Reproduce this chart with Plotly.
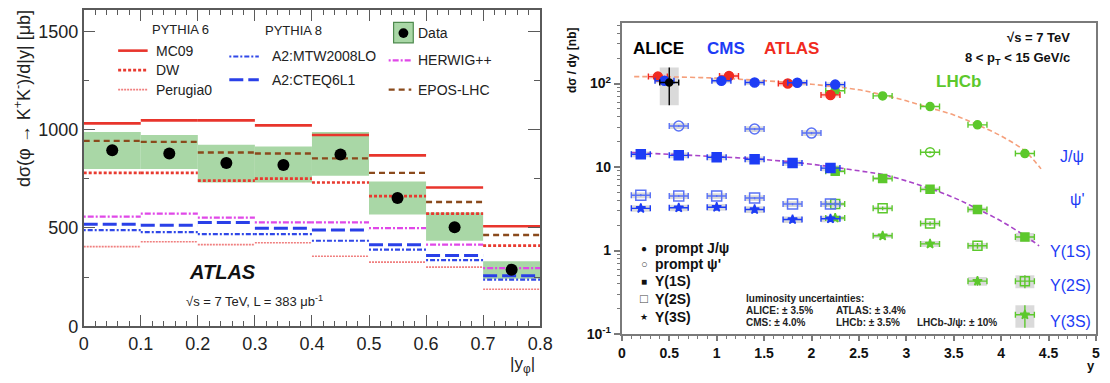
import plotly.graph_objects as go

W, H = 1110, 383
FONT = "Liberation Sans, Arial, Helvetica, sans-serif"

# ---------------- Left panel: ATLAS phi -> K+K- cross section ----------------
bin_lo = [0.0, 0.1, 0.2, 0.3, 0.4, 0.5, 0.6, 0.7]
bin_hi = [0.1, 0.2, 0.3, 0.4, 0.5, 0.6, 0.7, 0.8]
data_val = [895, 879, 830, 820, 874, 652, 504, 288]
data_sys_lo = [800, 800, 731, 731, 765, 568, 435, 242]
data_sys_hi = [988, 973, 923, 914, 988, 736, 578, 331]
mc09 = [1032, 1047, 1047, 1022, 973, 869, 706, 509]
dw = [780, 780, 741, 751, 731, 662, 573, 410]
perugia0 = [405, 430, 415, 425, 356, 326, 301, 188]
a2_mtw2008lo = [489, 479, 469, 469, 435, 390, 336, 237]
a2_cteq6l1 = [519, 514, 528, 499, 489, 415, 360, 257]
herwigpp = [558, 573, 553, 528, 528, 499, 415, 296]
epos_lhc = [943, 938, 884, 879, 854, 780, 632, 464]

# ---------------- Right panel: quarkonium dsigma/dy ----------------
xbin_half = 0.1
jpsi_cms_y = [0.45, 1.05, 1.4, 1.85, 2.25]
jpsi_cms = [108, 108, 103, 102, 97]
jpsi_atlas_y = [0.38, 1.13, 1.75, 2.2]
jpsi_atlas = [121, 123, 100, 73]
jpsi_alice_y = [0.5]
jpsi_alice = [103]
jpsi_alice_hi = [155]
jpsi_alice_lo = [55]
jpsi_lhcb_y = [2.25, 2.75, 3.25, 3.75, 4.25]
jpsi_lhcb = [82, 71, 53, 32, 14.5]
psi2s_cms_y = [0.6, 1.4, 2.0]
psi2s_cms = [31, 28.5, 25.5]
psi2s_lhcb_y = [3.25]
psi2s_lhcb = [15]
ups_cms_y = [0.2, 0.6, 1.0, 1.4, 1.8, 2.2]
ups1s_cms = [14.2, 13.8, 13.1, 12.4, 11.2, 9.7]
ups2s_cms = [4.6, 4.5, 4.5, 4.25, 3.6, 3.6]
ups3s_cms = [3.2, 3.25, 3.3, 3.1, 2.35, 2.4]
ups_lhcb_y = [2.25, 2.75, 3.25, 3.75, 4.25]
ups1s_lhcb = [8.9, 7.3, 5.4, 3.1, 1.45]
ups2s_lhcb = [3.6, 3.2, 2.1, 1.14, 0.43]
ups3s_lhcb = [2.45, 1.5, 1.2, 0.43, 0.17]
ups1s_lhcb_rel = [0.04, 0.04, 0.05, 0.06, 0.12]
ups2s_lhcb_rel = [0.05, 0.05, 0.06, 0.08, 0.18]
ups3s_lhcb_rel = [0.06, 0.06, 0.08, 0.12, 0.30]
fit_jpsi_y = [0.13, 0.5, 1.0, 1.5, 2.0, 2.5, 2.75, 3.0, 3.25, 3.5, 3.75, 4.0, 4.25, 4.42]
fit_jpsi = [121, 120, 116, 108, 98, 84, 73, 62, 51, 42, 32, 23.5, 15.5, 9.5]
fit_ups_y = [0.1, 0.5, 1.0, 1.5, 2.0, 2.5, 2.8, 3.25, 3.5, 3.75, 4.0, 4.25, 4.4]
fit_ups = [14.9, 14.2, 13.3, 12.3, 10.8, 9.0, 7.9, 5.5, 4.3, 3.15, 2.25, 1.5, 1.14]

fig = go.Figure()

# ---- left panel traces ----
centers = [(a + b) / 2 for a, b in zip(bin_lo, bin_hi)]
fig.add_trace(go.Bar(x=centers, y=[h - l for h, l in zip(data_sys_hi, data_sys_lo)],
                     base=data_sys_lo, width=0.1,
                     marker=dict(color="#a9d7a6", line=dict(width=0)),
                     xaxis="x", yaxis="y"))


def steps(vals):
    xs, ys = [], []
    for a, b, v in zip(bin_lo, bin_hi, vals):
        xs += [a, b, None]
        ys += [v, v, None]
    return xs, ys


models = [
    (perugia0, "#f07f7f", 1.6, "2px,1px"),
    (a2_mtw2008lo, "#3048e8", 2.2, "2px,2px,5px,2px"),
    (a2_cteq6l1, "#2a40e8", 3, "14px,5px"),
    (herwigpp, "#e048e8", 2.2, "2px,2px,6px,2px"),
    (dw, "#e83a30", 2.6, "3px,2px"),
    (epos_lhc, "#8a4a1c", 2.4, "6px,4px"),
    (mc09, "#e8352c", 2.6, "solid"),
]
for vals, col, wd, dash in models:
    xs, ys = steps(vals)
    fig.add_trace(go.Scatter(x=xs, y=ys, mode="lines",
                             line=dict(color=col, width=wd, dash=dash),
                             xaxis="x", yaxis="y"))

fig.add_trace(go.Scatter(x=centers, y=data_val, mode="markers",
                         marker=dict(color="black", size=12),
                         xaxis="x", yaxis="y"))

# ---- right panel traces ----


def boxes(xs, ys, rel_lo, rel_hi):
    bx, by = [], []
    for i, (x, y) in enumerate(zip(xs, ys)):
        lo = y * (1 - rel_lo[i])
        hi = y * (1 + rel_hi[i])
        bx += [x - xbin_half, x + xbin_half, x + xbin_half, x - xbin_half, x - xbin_half, None]
        by += [lo, lo, hi, hi, lo, None]
    return bx, by


GREY = "rgba(205,205,205,0.75)"
box_sets = [
    (jpsi_alice_y, jpsi_alice, [1 - l / v for l, v in zip(jpsi_alice_lo, jpsi_alice)],
     [h / v - 1 for h, v in zip(jpsi_alice_hi, jpsi_alice)], GREY),
    (jpsi_cms_y, jpsi_cms, [0.07] * 5, [0.07] * 5, GREY),
    (jpsi_atlas_y, jpsi_atlas, [0.07] * 4, [0.07] * 4, "rgba(255,190,190,0.6)"),
    (psi2s_cms_y, psi2s_cms, [0.08] * 3, [0.08] * 3, GREY),
    (ups_cms_y, ups1s_cms, [0.08] * 6, [0.08] * 6, GREY),
    (ups_cms_y, ups2s_cms, [0.08] * 6, [0.08] * 6, GREY),
    (ups_cms_y, ups3s_cms, [0.09] * 6, [0.09] * 6, GREY),
    (ups_lhcb_y, ups1s_lhcb, ups1s_lhcb_rel, ups1s_lhcb_rel, GREY),
    (ups_lhcb_y, ups2s_lhcb, ups2s_lhcb_rel, ups2s_lhcb_rel, GREY),
    (ups_lhcb_y, ups3s_lhcb, ups3s_lhcb_rel, ups3s_lhcb_rel, GREY),
]
for xs, ys, rl, rh, col in box_sets:
    bx, by = boxes(xs, ys, rl, rh)
    fig.add_trace(go.Scatter(x=bx, y=by, mode="lines", fill="toself", fillcolor=col,
                             line=dict(width=0), xaxis="x2", yaxis="y2"))

fig.add_trace(go.Scatter(x=fit_jpsi_y, y=fit_jpsi, mode="lines", line_shape="spline",
                         line=dict(color="#f5a07c", width=1.6, dash="5px,3px"),
                         xaxis="x2", yaxis="y2"))
fig.add_trace(go.Scatter(x=fit_ups_y, y=fit_ups, mode="lines", line_shape="spline",
                         line=dict(color="#a844c8", width=1.6, dash="5px,3px"),
                         xaxis="x2", yaxis="y2"))

BLUE = "#1d3cf5"
LBLUE = "#5a72f5"
RED = "#f02a20"
GREEN = "#5cc82c"


def pts(xs, ys, color, symbol, size, rel_err=0.03, err_plus=None, err_minus=None, lw=1.5):
    if err_plus is None:
        err_plus = [y * rel_err for y in ys]
        err_minus = [y * rel_err for y in ys]
    fig.add_trace(go.Scatter(
        x=xs, y=ys, mode="markers",
        marker=dict(symbol=symbol, size=size, color=color,
                    line=dict(color=color, width=lw)),
        error_x=dict(type="constant", value=xbin_half, color=color, thickness=1.4, width=3),
        error_y=dict(type="data", array=err_plus, arrayminus=err_minus,
                     color=color, thickness=1.4, width=0),
        xaxis="x2", yaxis="y2"))


pts(jpsi_lhcb_y, jpsi_lhcb, GREEN, "circle", 8)
pts(psi2s_lhcb_y, psi2s_lhcb, GREEN, "circle-open", 9)
pts(ups_lhcb_y, ups1s_lhcb, GREEN, "square", 8)
pts(ups_lhcb_y, ups2s_lhcb, GREEN, "square-open", 9,
    err_plus=[y * r for y, r in zip(ups2s_lhcb, ups2s_lhcb_rel)],
    err_minus=[y * r for y, r in zip(ups2s_lhcb, ups2s_lhcb_rel)])
pts(ups_lhcb_y, ups3s_lhcb, GREEN, "star", 7,
    err_plus=[y * r for y, r in zip(ups3s_lhcb, ups3s_lhcb_rel)],
    err_minus=[y * r for y, r in zip(ups3s_lhcb, ups3s_lhcb_rel)])
pts(jpsi_atlas_y, jpsi_atlas, RED, "circle", 9)
pts(jpsi_cms_y, jpsi_cms, BLUE, "circle", 9)
pts(psi2s_cms_y, psi2s_cms, LBLUE, "circle-open", 10)
pts(ups_cms_y, ups1s_cms, BLUE, "square", 9)
pts(ups_cms_y, ups2s_cms, LBLUE, "square-open", 10)
pts(ups_cms_y, ups3s_cms, BLUE, "star", 7, rel_err=0.08)
pts(jpsi_alice_y, jpsi_alice, "black", "circle", 7,
    err_plus=[h - v for h, v in zip(jpsi_alice_hi, jpsi_alice)],
    err_minus=[v - l for l, v in zip(jpsi_alice_lo, jpsi_alice)])

# ---------------- layout ----------------


def X(p):
    return p / W


def Y(p):
    return 1 - p / H


AX = "#5a5a5a"
left_x = dict(domain=[X(80), X(544)], range=[0, 0.8], anchor="y",
              tickvals=[i / 10 for i in range(9)],
              ticktext=["0", "0.1", "0.2", "0.3", "0.4", "0.5", "0.6", "0.7", "0.8"],
              ticks="inside", ticklen=12, tickwidth=1.2, tickcolor=AX,
              minor=dict(ticks="inside", ticklen=6, dtick=0.02, tick0=0, tickcolor=AX, tickwidth=1.2),
              showline=True, linecolor=AX, linewidth=1.5, mirror="ticks",
              showgrid=False, zeroline=False,
              tickfont=dict(family=FONT, size=18, color="#222"))
left_y = dict(domain=[Y(335), Y(10)], range=[0, 1610], anchor="x",
              tickvals=[0, 500, 1000, 1500],
              ticks="inside", ticklen=12, tickwidth=1.2, tickcolor=AX,
              minor=dict(ticks="inside", ticklen=6, dtick=250, tick0=0, tickcolor=AX, tickwidth=1.2),
              showline=True, linecolor=AX, linewidth=1.5, mirror="ticks",
              showgrid=False, zeroline=False,
              tickfont=dict(family=FONT, size=18, color="#222"))

AX2 = "#7a7a7a"
minor_log = [m * 10 ** e for e in (-1, 0, 1) for m in range(2, 10)] + [200, 300, 400, 500]
right_x = dict(domain=[X(627), X(1109)], range=[0, 5], anchor="y2",
               tickvals=[i / 2 for i in range(11)],
               ticktext=["0", "0.5", "1", "1.5", "2", "2.5", "3", "3.5", "4", "4.5", "5"],
               ticks="outside", ticklen=5, tickwidth=1.5, tickcolor=AX2,
               minor=dict(ticks="outside", ticklen=3, dtick=0.1, tick0=0, tickcolor=AX2, tickwidth=1.2),
               showline=True, linecolor=AX2, linewidth=2, mirror=True,
               showgrid=False, zeroline=False,
               tickfont=dict(family=FONT, size=14, color="#111", weight="bold"))
right_y = dict(domain=[Y(343), Y(24)], type="log", range=[-1, 2.72], anchor="x2",
               tickvals=[0.1, 1, 10, 100],
               ticktext=["10<sup>-1</sup>", "1", "10", "10<sup>2</sup>"],
               ticks="outside", ticklen=6, tickwidth=1.5, tickcolor=AX2,
               minor=dict(ticks="outside", ticklen=3, tickvals=minor_log, tickcolor=AX2, tickwidth=1.2),
               showline=True, linecolor=AX2, linewidth=2, mirror=True,
               showgrid=False, zeroline=False,
               tickfont=dict(family=FONT, size=14, color="#111", weight="bold"))


def ann(text, x, y, size, color="#222", bold=False, italic=False,
        xanchor="left", yanchor="middle", angle=0):
    return dict(text=text, x=X(x), y=Y(y), xref="paper", yref="paper", showarrow=False,
                xanchor=xanchor, yanchor=yanchor, textangle=angle, borderpad=0,
                font=dict(family=FONT, size=size, color=color,
                          weight="bold" if bold else "normal",
                          style="italic" if italic else "normal"))


annotations = [
    # left panel
    ann("dσ(φ → K<sup>+</sup>K<sup>-</sup>)/d|y| [μb]", 18, 101, 18, xanchor="center", angle=-90),
    ann("|y<sub>φ</sub>|", 526, 375, 17, xanchor="center"),
    ann("PYTHIA 6", 148, 30, 13),
    ann("MC09", 152, 52, 14),
    ann("DW", 152, 72, 14),
    ann("Perugia0", 152, 92, 14),
    ann("PYTHIA 8", 263, 31, 13),
    ann("A2:MTW2008LO", 270, 58, 14),
    ann("A2:CTEQ6L1", 270, 82, 14),
    ann("Data", 419, 34, 14),
    ann("HERWIG++", 419, 62, 14),
    ann("EPOS-LHC", 419, 92, 14),
    ann("ATLAS", 186, 279, 20, color="#111", bold=True, italic=True),
    ann("√s = 7 TeV, L = 383 μb<sup>-1</sup>", 183, 309, 13),
    # right panel
    ann("dσ / dy [nb]", 577, 62, 12, color="#111", bold=True, xanchor="center", angle=-90),
    ann("y", 1109, 384, 13, color="#111", bold=True, xanchor="right", yanchor="bottom"),
    ann("ALICE", 637, 50, 17, color="#000", bold=True),
    ann("CMS", 713, 50, 17, color=BLUE, bold=True),
    ann("ATLAS", 771, 50, 17, color=RED, bold=True),
    ann("LHCb", 945, 84, 17, color=GREEN, bold=True),
    ann("√s = 7 TeV", 1084, 38, 13, color="#111", bold=True, xanchor="right"),
    ann("8 < p<sub>T</sub> < 15 GeV/c", 1084, 60, 13, color="#111", bold=True, xanchor="right"),
    ann("J/ψ", 1071, 161, 16, color=BLUE),
    ann("ψ'", 1082, 205, 16, color=BLUE),
    ann("Υ(1S)", 1061, 258, 16, color=BLUE),
    ann("Υ(2S)", 1061, 293, 16, color=BLUE),
    ann("Υ(3S)", 1061, 330, 16, color=BLUE),
    ann("●", 650, 255, 10, color="#111", xanchor="center"),
    ann("○", 650, 271, 11, color="#444", xanchor="center"),
    ann("■", 650, 289, 10, color="#111", xanchor="center"),
    ann("□", 650, 307, 13, color="#444", xanchor="center"),
    ann("★", 650, 325, 9, color="#111", xanchor="center"),
    ann("prompt J/ψ", 660, 255, 14, color="#111", bold=True),
    ann("prompt ψ'", 660, 271, 14, color="#111", bold=True),
    ann("Υ(1S)", 660, 289, 14, color="#111", bold=True),
    ann("Υ(2S)", 660, 307, 14, color="#111", bold=True),
    ann("Υ(3S)", 660, 325, 14, color="#111", bold=True),
    ann("luminosity uncertainties:", 752, 307, 10, color="#222", bold=True),
    ann("ALICE: ± 3.5%", 752, 319, 10, color="#222", bold=True),
    ann("ATLAS: ± 3.4%", 844, 319, 10, color="#222", bold=True),
    ann("CMS: ± 4.0%", 752, 331, 10, color="#222", bold=True),
    ann("LHCb: ± 3.5%", 844, 331, 10, color="#222", bold=True),
    ann("LHCb-J/ψ: ± 10%", 926, 331, 10, color="#222", bold=True),
]


def seg(x0, x1, y, color, width, dash):
    return dict(type="line", xref="paper", yref="paper", x0=X(x0), x1=X(x1), y0=Y(y), y1=Y(y),
                line=dict(color=color, width=width, dash=dash))


shapes = [
    seg(115, 145, 52, "#e8352c", 2.6, "solid"),
    seg(115, 145, 72, "#e83a30", 2.6, "3px,2px"),
    seg(115, 145, 92, "#f07f7f", 1.6, "2px,1px"),
    seg(228, 258, 58, "#3048e8", 2.2, "2px,2px,5px,2px"),
    seg(228, 258, 82, "#2a40e8", 3, "14px,5px"),
    seg(390, 413, 62, "#e048e8", 2.2, "2px,2px,6px,2px"),
    seg(390, 413, 92, "#8a4a1c", 2.4, "6px,4px"),
    dict(type="rect", xref="paper", yref="paper", x0=X(395), x1=X(415), y0=Y(44), y1=Y(23),
         fillcolor="#a9d7a6", line=dict(color="#4e8a4e", width=1.2)),
    dict(type="circle", xref="paper", yref="paper", x0=X(400), x1=X(410), y0=Y(39), y1=Y(29),
         fillcolor="black", line=dict(color="black", width=0)),
]

fig.update_layout(
    width=W, height=H, margin=dict(l=0, r=0, t=0, b=0),
    paper_bgcolor="white", plot_bgcolor="white",
    showlegend=False, barmode="overlay",
    xaxis=left_x, yaxis=left_y, xaxis2=right_x, yaxis2=right_y,
    annotations=annotations, shapes=shapes,
    font=dict(family=FONT),
)

fig.write_html("out.html")
